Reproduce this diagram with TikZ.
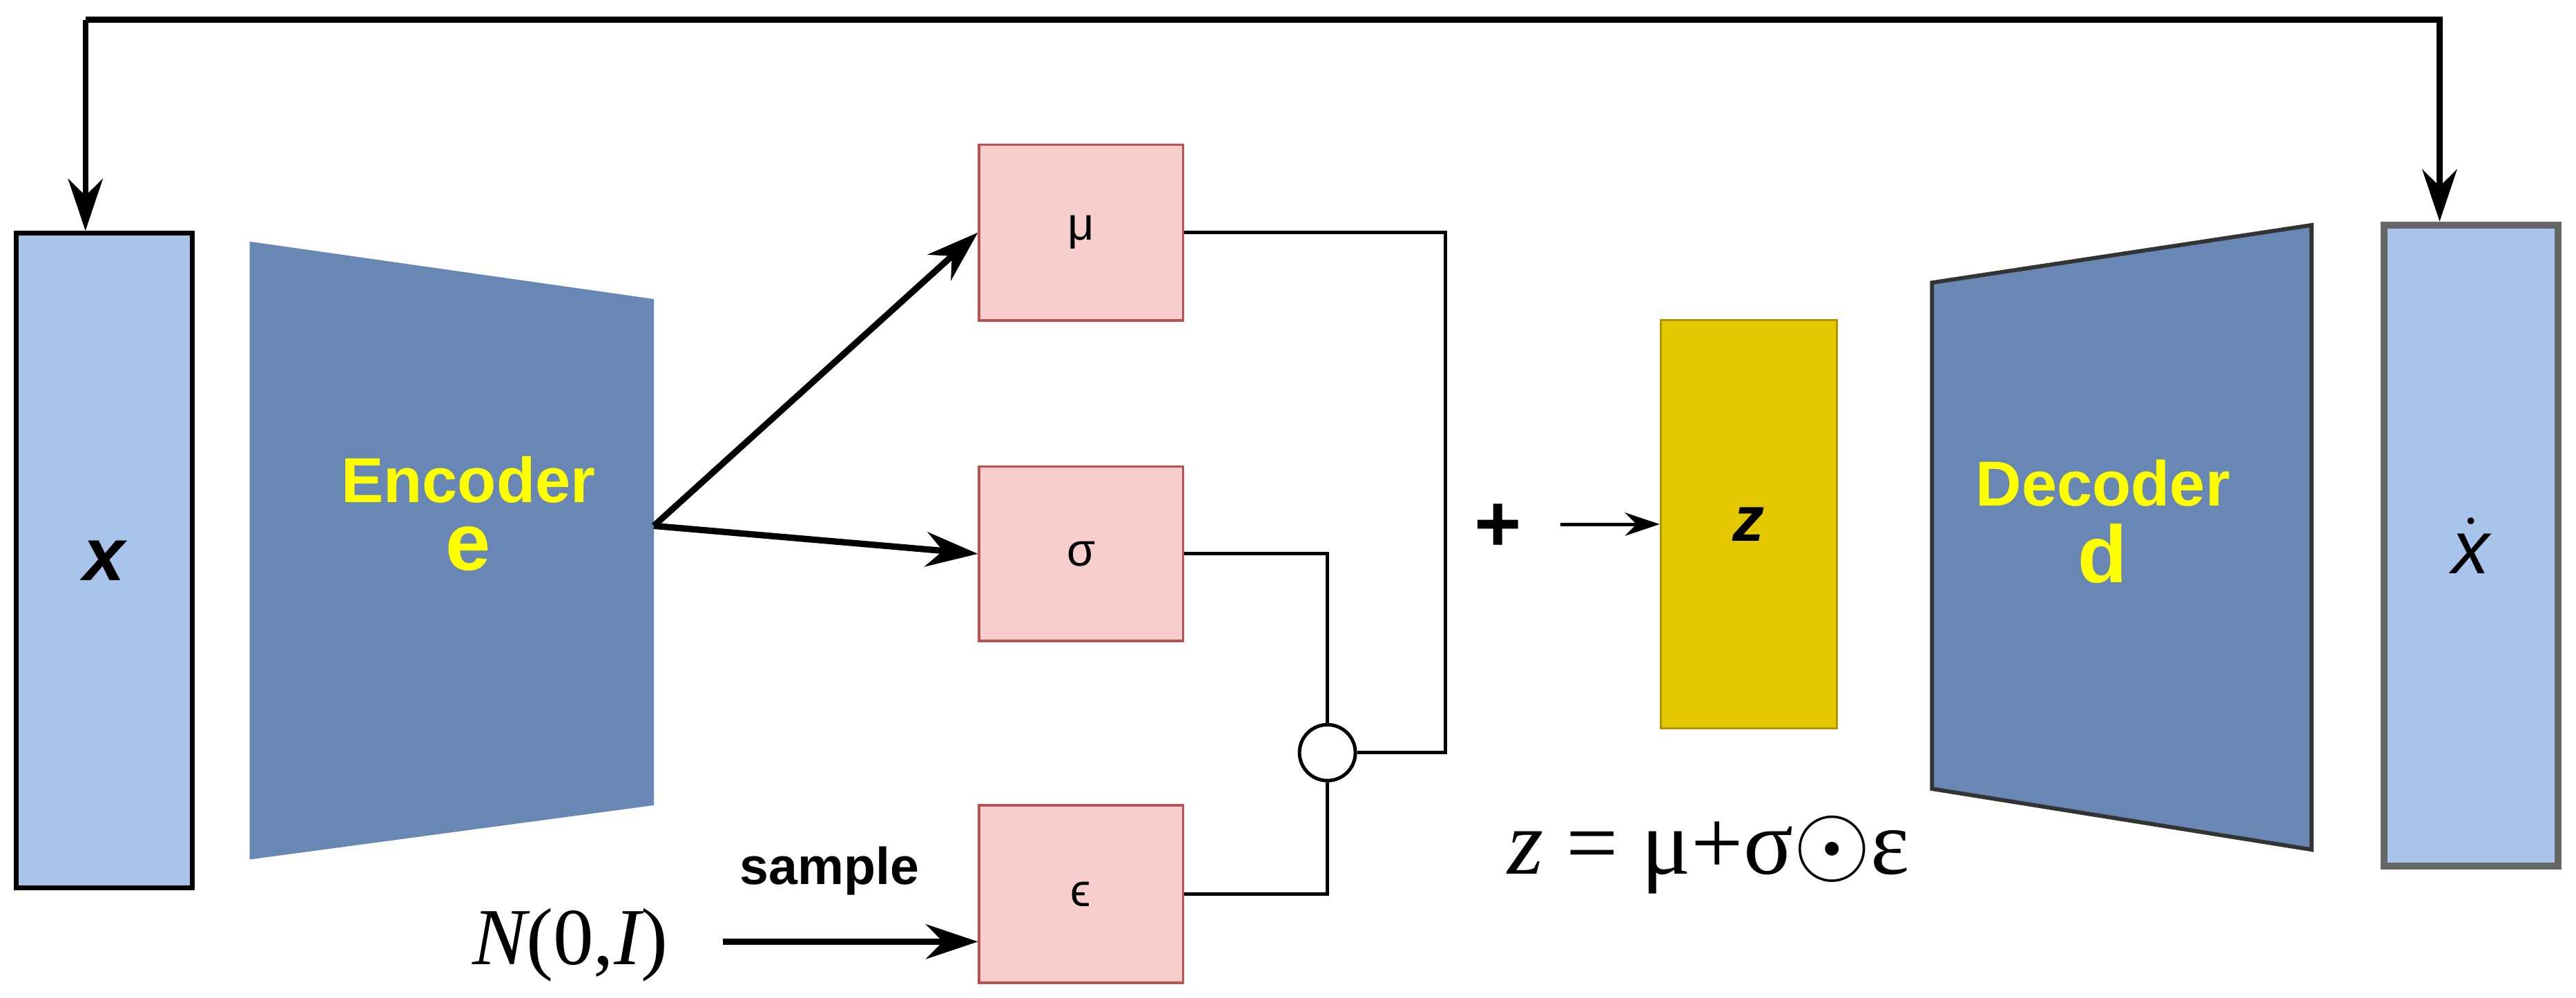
\documentclass[tikz,border=0pt]{standalone}
\usepackage{fontspec}
\setmainfont{Liberation Sans}
\newfontfamily\serifF{Liberation Serif}
\usetikzlibrary{arrows.meta}
\definecolor{boxblue}{HTML}{A9C4EB}
\definecolor{trap}{HTML}{6887B5}
\definecolor{pinkf}{HTML}{F8CECC}
\definecolor{pinkd}{HTML}{B85450}
\definecolor{zf}{HTML}{E3C800}
\definecolor{zd}{HTML}{B09500}
\definecolor{yel}{HTML}{FFFF00}
\begin{document}
\begin{tikzpicture}[x=0.01cm,y=-0.01cm,
  lab/.style={font=\fontsize{11}{12}\selectfont\bfseries,text=yel,align=center},
  arr/.style={-{Stealth[length=9pt,width=6pt]},line width=1.1pt},
  wire/.style={line width=0.6pt}]
\useasboundingbox (0,0) rectangle (1568,607);
% boxes
\node[draw=black,fill=boxblue,line width=0.8pt,minimum width=1.07cm,minimum height=3.98cm,inner sep=0] (x) at (63.5,341) {\fontsize{13}{14}\selectfont\bfseries\itshape x};
\node[draw=black!60,fill=boxblue,line width=1.2pt,minimum width=1.06cm,minimum height=3.90cm,inner sep=0] (xh) at (1504,332) {\fontsize{13}{14}\selectfont\itshape $\dot{\mbox{\itshape x}}$};
\fill[trap] (152,147) -- (398,182) -- (398,490) -- (152,523) -- cycle;
\node[lab] (enc) at (285,292) {Encoder};
\node[lab,font=\fontsize{14}{15}\selectfont\bfseries] (e) at (285,334) {e};
\coordinate (eo) at (398,320);
\filldraw[fill=trap,draw=black!80,line width=0.7pt] (1176,172) -- (1407,137) -- (1407,517) -- (1176,480) -- cycle;
\node[lab] (dec) at (1280,294) {Decoder};
\node[lab,font=\fontsize{14}{15}\selectfont\bfseries] (d) at (1280,337) {d};
\node[draw=pinkd,fill=pinkf,minimum width=1.24cm,minimum height=1.07cm,inner sep=0] (mu) at (658,141.5) {\fontsize{8}{9}\selectfont μ};
\node[draw=pinkd,fill=pinkf,minimum width=1.24cm,minimum height=1.06cm,inner sep=0] (sg) at (658,337) {\fontsize{8}{9}\selectfont σ};
\node[draw=pinkd,fill=pinkf,minimum width=1.24cm,minimum height=1.08cm,inner sep=0] (ep) at (658,544) {\fontsize{8}{9}\selectfont ϵ};
\node[draw=zd,fill=zf,minimum width=1.07cm,minimum height=2.48cm,inner sep=0] (z) at (1064.5,319) {\fontsize{11}{12}\selectfont\bfseries\itshape z};
\node[draw=black,circle,minimum size=0.34cm,inner sep=0,line width=0.6pt] (c) at (808,458) {};
% arrows
\draw[arr] (eo) -- (mu.west);
\draw[arr] (eo) -- (sg.west);
\coordinate (mr) at (880,0);
\draw[wire] (mu.east) -- (mu.east -| mr) -- (c.east -| mr) -- (c.east);
\draw[wire] (sg.east) -- (sg.east -| c) -- (c.north);
\draw[wire] (ep.east) -- (ep.east -| c) -- (c.south);
\node[font=\fontsize{14}{14}\selectfont\bfseries] (plus) at (912,321) {+};
\coordinate (pa) at (950,0);
\draw[-{Stealth[length=6pt,width=4pt]},line width=0.6pt] (z.west -| pa) -- (z.west);
\coordinate (tl) at (52,12);
\coordinate (tr) at (1485,12);
\draw[line width=1pt,-{Stealth[length=9pt,width=6pt]}] (tl) -- (tr) -- (xh.north -| tr);
\draw[line width=1pt,-{Stealth[length=9pt,width=6pt]}] (tl) -- (x.north -| tl);
\node[font=\fontsize{9}{10}\selectfont\bfseries] (smp) at (505,530) {sample};
\node[font=\serifF\fontsize{14}{15}\selectfont] (N) at (347,575) {\itshape N\upshape(0,\itshape I\upshape)};
\coordinate (ns) at (440,573);
\draw[arr] (ns) -- (ep.west |- ns);
\node[font=\serifF\fontsize{16}{17}\selectfont] (f) at (1040,520) {\itshape z\upshape\ = μ+σ$\odot$ε};
\end{tikzpicture}
\end{document}
